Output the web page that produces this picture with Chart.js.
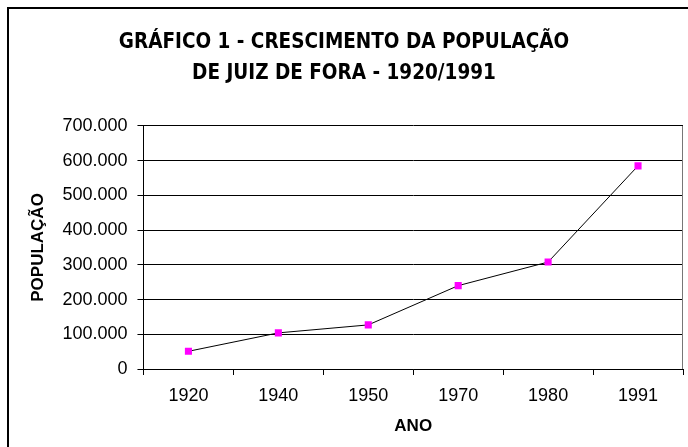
<!DOCTYPE html>
<html lang="pt-BR">
<head>
<meta charset="utf-8">
<title>Gráfico 1 - Crescimento da população de Juiz de Fora</title>
<script src="https://cdn.jsdelivr.net/npm/chart.js@4/dist/chart.umd.min.js"></script>
<style>
  html, body { margin: 0; padding: 0; background: #fff; }
  #wrap { width: 688px; height: 447px; }
</style>
</head>
<body>
<div id="wrap"><canvas id="popChart"></canvas></div>
<script>
// --- data ---
const anos = ['1920', '1940', '1950', '1970', '1980', '1991'];
const populacao = [51000, 104000, 127000, 240000, 308000, 585000];
const yTicks = [0, 100000, 200000, 300000, 400000, 500000, 600000, 700000];

const FONT = "'Liberation Sans', Arial, sans-serif";
const NARROW = "'DejaVu Sans Condensed', 'Arial Narrow', sans-serif";

// thousands separator with a dot, like the original
const fmt = v => String(v).replace(/\B(?=(\d{3})+(?!\d))/g, '.');

// outer frame + right edge of the plot area
const frame = {
    id: 'frame',
    afterDraw(chart) {
        const { ctx, chartArea } = chart;
        ctx.save();
        ctx.strokeStyle = '#000';
        ctx.lineWidth = 2;
        ctx.beginPath();
        ctx.moveTo(8, chart.height + 2);
        ctx.lineTo(8, 8);
        ctx.lineTo(chart.width + 2, 8);
        ctx.stroke();
        ctx.lineWidth = 1;
        ctx.strokeStyle = '#777';
        ctx.beginPath();
        ctx.moveTo(Math.round(chartArea.right) - 0.5, chartArea.top);
        ctx.lineTo(Math.round(chartArea.right) - 0.5, chartArea.bottom);
        ctx.stroke();
        ctx.restore();
    }
};

new Chart(document.getElementById('popChart'), {
    type: 'line',
    data: {
        labels: anos,
        datasets: [{
            data: populacao,
            borderColor: '#000',
            borderWidth: 1,
            tension: 0,
            pointStyle: 'rect',
            pointRadius: 5,
            pointBackgroundColor: '#ff00ff',
            pointBorderColor: '#ff00ff',
            pointBorderWidth: 0
        }]
    },
    options: {
        responsive: true,
        maintainAspectRatio: false,
        animation: false,
        events: [],
        layout: { padding: { left: 0, right: 0, top: 0, bottom: 10 } },
        plugins: {
            legend: { display: false },
            tooltip: { enabled: false },
            title: {
                display: true,
                text: ['GRÁFICO 1 - CRESCIMENTO DA POPULAÇÃO', 'DE JUIZ DE FORA - 1920/1991'],
                color: '#000',
                font: { family: NARROW, size: 20.5, weight: 'bold', lineHeight: 1.51 },
                padding: { top: 27, bottom: 37 }
            }
        },
        scales: {
            x: {
                type: 'category',
                offset: true,
                grid: { offset: true, drawOnChartArea: false, color: '#000', tickLength: 6 },
                border: { color: '#000', width: 1 },
                ticks: { color: '#000', font: { family: FONT, size: 18 }, padding: 10, maxRotation: 0 },
                title: { display: true, text: 'ANO', color: '#000', font: { family: FONT, size: 17, weight: 'bold' }, padding: { top: 0, bottom: 0 } }
            },
            y: {
                min: 0,
                max: 700000,
                afterBuildTicks(scale) { scale.ticks = yTicks.map(v => ({ value: v })); },
                grid: { color: '#000', lineWidth: 1, tickLength: 6 },
                border: { color: '#000', width: 1 },
                ticks: { color: '#000', font: { family: FONT, size: 18 }, padding: 10, callback: v => fmt(v) },
                title: { display: true, text: 'POPULAÇÃO', color: '#000', font: { family: FONT, size: 17, weight: 'bold' }, padding: { top: 28, bottom: 4 } }
            }
        }
    },
    plugins: [frame]
});
</script>
</body>
</html>
